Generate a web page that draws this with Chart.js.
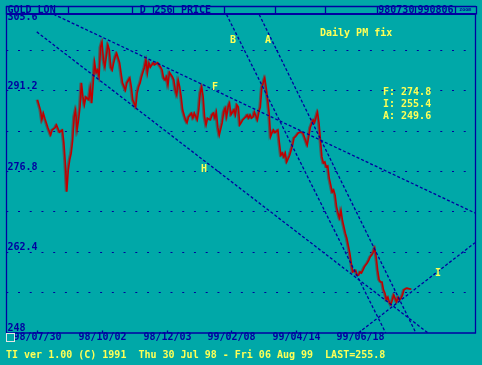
<!DOCTYPE html>
<html><head><meta charset="utf-8">
<script src="https://cdn.jsdelivr.net/npm/chart.js@4.4.1/dist/chart.umd.min.js"></script>
<style>html,body{margin:0;padding:0;background:#00A8A8;overflow:hidden}canvas{display:block}</style>
</head><body>
<div style="width:482px;height:365px;position:relative"><canvas id="c" width="482" height="365"></canvas></div>
<script>
// ---- data (trading-day index from 98/07/30, Daily PM fix) ----
const days = [0,2,3,4,5,7,9,10,12,13,15,17,18,19,20,21,22,23,24,25,26,27,28,29,30,31,32,33,35,36,37,38,39,40,41,42,43,44,45,46,48,49,50,51,52,53,54,56,57,58,60,61,63,64,65,67,68,69,70,71,73,74,75,76,77,79,80,82,84,85,86,87,88,89,90,92,93,94,95,96,97,98,99,101,102,103,105,106,107,109,110,111,112,113,114,115,116,118,119,120,121,122,123,124,126,127,128,129,130,131,132,134,135,136,137,138,139,140,142,143,144,145,146,147,148,150,151,152,153,154,155,156,157,158,159,160,161,162,164,165,166,167,168,169,170,172,173,174,175,176,178,180,181,182,184,185,186,188,189,190,191,192,193,194,195,196,197,198,199,200,201,202,203,204,205,206,207,208,210,211,213,214,215,217,218,219,220,221,222,223,225,226,227,228,229,230,231,232,233,234,235,236,237,238,239,240,241,242,243,245,246,247,248,249,250,252,255];
const prices = [289.6,287.8,286.0,287.2,286.3,284.7,283.3,284.2,284.6,285.1,283.8,284.2,281.9,278.3,273.2,277.1,278.9,280.1,282.4,286.5,287.8,284.2,286.0,288.3,292.6,290.1,288.7,290.1,289.6,291.7,289.0,292.6,296.2,294.4,294.9,293.7,299.0,299.9,296.7,295.4,299.4,298.5,295.4,294.9,296.2,297.2,297.9,296.2,294.4,292.6,291.3,292.6,293.5,291.9,289.6,288.3,290.8,291.9,292.6,293.7,295.4,296.7,294.4,296.2,295.4,296.2,295.8,296.2,295.4,294.9,293.5,293.1,293.7,292.2,294.5,293.7,293.1,291.3,290.4,293.1,291.9,290.1,287.8,286.0,285.5,286.5,287.2,286.3,287.2,286.0,287.8,290.8,291.9,290.1,286.5,285.1,286.3,286.0,286.9,287.2,286.3,287.4,284.7,283.3,285.5,287.4,288.1,286.5,288.3,289.0,286.9,287.8,286.9,288.7,288.3,285.1,285.5,286.0,286.5,286.9,286.3,286.9,286.3,286.5,287.4,286.0,287.4,288.3,291.7,292.6,293.5,291.7,289.6,287.2,283.0,283.7,284.2,283.7,284.2,281.9,279.7,280.1,279.4,280.1,278.5,279.7,280.6,281.5,282.8,283.0,283.7,283.8,283.7,283.0,281.5,283.0,284.6,286.0,285.5,286.5,287.4,285.5,282.4,279.4,278.3,278.5,277.6,277.8,275.6,274.4,273.1,273.5,272.6,270.5,269.4,268.5,269.9,268.1,265.8,264.9,262.3,260.5,258.9,259.2,258.3,258.3,258.9,258.7,259.2,259.8,260.5,261.0,261.6,261.9,262.4,263.2,261.6,259.2,257.5,257.1,257.1,255.7,255.1,253.9,254.4,253.5,253.0,253.9,254.8,253.5,254.4,253.9,254.2,254.8,255.7,256.0,255.8];

// trendlines: [dayIndex, price] endpoints
const lineF = [[4.8, 305.6], [298.4, 269.4]];
const lineH = [[-0.5, 301.7], [266.4, 248.0]];
const lineB = [[127.4, 305.6], [237.5, 248.0]];
const lineA = [[149.7, 305.6], [258.1, 248.0]];
const lineI = [[218.8, 248.0], [298.4, 264.1]];

const yTickValues = [305.6, 291.2, 276.8, 262.4, 248];
const yTickLabels = ['305.6', '291.2', '276.8', '262.4', '248'];
const yMin = 248, yMax = 305.6, yStep = 7.2;
const xTickDays = [0, 44, 88, 132, 176, 220];
const xTickLabels = ['98/07/30', '98/10/02', '98/12/03', '99/02/08', '99/04/14', '99/06/18'];
const headerCells = ['GOLD LON', '', 'D', '256', 'PRICE', '', '', '', '980730', '990806', 'zoom'];
const sideNotes = ['F: 274.8', 'I: 255.4', 'A: 249.6'];
const title = 'Daily PM fix';
const footer = 'TI ver 1.00 (C) 1991  Thu 30 Jul 98 - Fri 06 Aug 99  LAST=255.8';

// ---- styling ----
const BG = 'rgb(0,168,168)', BLUE = '#0000A0', YEL = '#FFFF55', RED = '#C00000';
const FONT = 'bold 10px "DejaVu Sans Mono", "Liberation Mono", monospace';
const PRICE_IDX = 5;

const toPts = arr => arr.map(p => ({x: p[0], y: p[1]}));
const trend = d => ({data: toPts(d), borderColor: BLUE, borderWidth: 1.3, borderDash: [3, 2], pointRadius: 0, fill: false, tension: 0});

const bgPlugin = {
  id: 'bg',
  beforeDraw(chart) {
    const c = chart.ctx;
    c.save(); c.fillStyle = BG; c.fillRect(0, 0, chart.width, chart.height); c.restore();
  },
  beforeDatasetDraw(chart, args) {
    if (args.index === PRICE_IDX) {
      const c = chart.ctx; c.save();
      c.shadowColor = 'rgba(85,85,85,0.95)'; c.shadowOffsetX = -1.2; c.shadowOffsetY = 0; c.shadowBlur = 0;
    }
  },
  afterDatasetDraw(chart, args) {
    if (args.index === PRICE_IDX) chart.ctx.restore();
  }
};

const overlay = {
  id: 'overlay',
  afterDraw(chart) {
    const c = chart.ctx, xs = chart.scales.x, ys = chart.scales.y;
    c.save();
    // frame
    c.strokeStyle = BLUE; c.lineWidth = 1.3;
    c.beginPath();
    c.moveTo(6.5, 6); c.lineTo(6.5, 333.5);
    c.moveTo(475.5, 6); c.lineTo(475.5, 333.5);
    c.moveTo(6, 333); c.lineTo(476, 333);
    c.stroke();
    // x ticks + labels
    c.font = FONT; c.textBaseline = 'middle'; c.textAlign = 'center'; c.fillStyle = BLUE;
    xTickDays.forEach((d, i) => {
      const px = Math.round(xs.getPixelForValue(d)) + 0.5;
      c.beginPath(); c.moveTo(px, 330.5); c.lineTo(px, 333); c.stroke();
      c.fillText(xTickLabels[i], px, 337.5);
    });
    // y labels
    c.textAlign = 'left';
    yTickValues.forEach((v, i) => {
      let py = ys.getPixelForValue(v) - 4.5;
      if (py < 17) py = 17;
      c.fillText(yTickLabels[i], 7.5, py);
    });
    // header bar
    const hx = [6, 68.3, 131.7, 152.7, 173.3, 224, 275.3, 325.3, 376.7, 415, 455, 475.5];
    c.fillStyle = BG; c.fillRect(6, 5.5, 470, 9);
    c.strokeStyle = BLUE; c.lineWidth = 1.3;
    c.beginPath(); c.moveTo(6, 6.5); c.lineTo(476, 6.5); c.stroke();
    c.lineWidth = 1.8;
    c.beginPath(); c.moveTo(6, 14); c.lineTo(476, 14); c.stroke();
    c.lineWidth = 1.3;
    hx.forEach(x => { c.beginPath(); c.moveTo(Math.round(x) + 0.5, 6); c.lineTo(Math.round(x) + 0.5, 14.5); c.stroke(); });
    c.fillStyle = BLUE;
    c.font = 'bold 10px "DejaVu Sans Mono", monospace';
    headerCells.forEach((t, i) => {
      if (!t) return;
      const l = hx[i], r = hx[i + 1];
      if (i === 0) { c.textAlign = 'left'; c.fillText(t, l + 1.5, 10.4); }
      else if (i === 4) { c.textAlign = 'left'; c.fillText(t, 181, 10.4); }
      else if (t === 'zoom') {
        c.save();
        c.font = 'bold 5px "DejaVu Sans Mono", monospace'; c.textAlign = 'center';
        c.fillText(t, (l + r) / 2, 9.5); c.restore();
      }
      else { c.textAlign = 'center'; c.fillText(t, (l + r) / 2 + 0.5, 10.4); }
    });
    // yellow annotations
    c.font = FONT; c.fillStyle = YEL; c.textAlign = 'center';
    [['B', 233, 40], ['A', 268, 40], ['F', 215, 87], ['H', 204, 169], ['I', 438, 273.5]].forEach(l => c.fillText(l[0], l[1], l[2]));
    c.textAlign = 'left';
    c.fillText(title, 320, 33.5);
    sideNotes.forEach((t, i) => c.fillText(t, 383, 92.5 + i * 12));
    c.fillText(footer, 6, 355.5);
    // small square
    c.strokeStyle = '#E4E4E4'; c.lineWidth = 1;
    c.strokeRect(6.5, 333.5, 8, 8);
    c.restore();
  }
};

new Chart(document.getElementById('c'), {
  type: 'line',
  data: {
    datasets: [
      trend(lineF), trend(lineH), trend(lineB), trend(lineA), trend(lineI),
      {data: days.map((d, i) => ({x: d, y: prices[i]})), borderColor: RED, borderWidth: 1.6, pointRadius: 0, fill: false, tension: 0}
    ]
  },
  options: {
    responsive: false, animation: false, devicePixelRatio: 1,
    layout: {padding: {left: 7, right: 7, top: 10, bottom: 32}},
    plugins: {legend: {display: false}, tooltip: {enabled: false}},
    scales: {
      x: {type: 'linear', min: -20.8, max: 298.4, ticks: {display: false}, grid: {display: false, drawTicks: false}, border: {display: false}},
      y: {
        type: 'linear', min: yMin, max: yMax,
        afterBuildTicks: s => { const t = []; for (let k = 1; k < 8; k++) t.push({value: yMin + yStep * k}); s.ticks = t; },
        ticks: {display: false},
        grid: {drawTicks: false, color: BLUE, lineWidth: 1},
        border: {display: false, dash: [2, 9.73], dashOffset: 0.73}
      }
    }
  },
  plugins: [bgPlugin, overlay]
});
</script>
</body></html>
